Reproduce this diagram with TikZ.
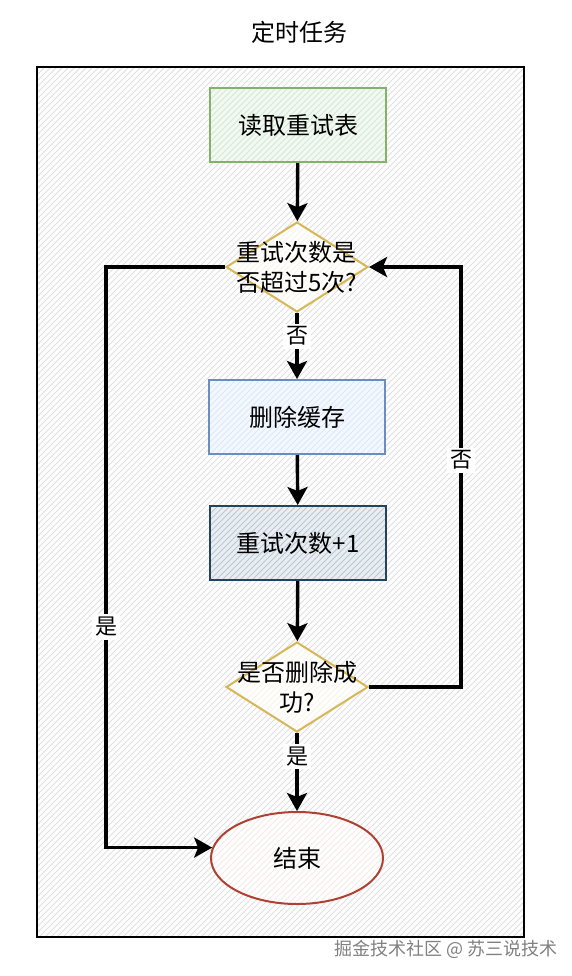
\documentclass[tikz,border=0pt]{standalone}
\usepackage{fontspec}
\setmainfont{Noto Sans CJK SC}
\usetikzlibrary{shapes.geometric,arrows.meta,patterns}

\definecolor{grnline}{HTML}{82B366}
\definecolor{grnfill}{HTML}{D5E8D4}
\definecolor{blueline}{HTML}{6C8EBF}
\definecolor{bluefill}{HTML}{DAE8FC}
\definecolor{navyline}{HTML}{23445D}
\definecolor{navyfill}{HTML}{BAC8D3}
\definecolor{yelline}{HTML}{D6B656}
\definecolor{redline}{HTML}{AE4132}

\tikzset{
  hatch/.style 2 args={preaction={fill=#1},preaction={pattern=north east lines,pattern color=#2}},
  box/.style={rectangle,draw=#1,line width=1pt,minimum width=88pt,minimum height=37pt,
    font=\fontsize{12}{14}\selectfont},
  decision/.style={diamond,draw=yelline,line width=1pt,minimum width=71pt,minimum height=45pt,
    inner sep=0pt,aspect=1.6},
  flow/.style={line width=1.7pt,-{Stealth[length=9pt,width=10pt,inset=2pt]}},
  lbl/.style={fill=white,inner sep=1.5pt,font=\fontsize{11}{12}\selectfont}
}

\begin{document}
\begin{tikzpicture}
  [x=0.5pt,y=-0.5pt]
  \useasboundingbox (0,0) rectangle (572,976);
  \node (title) at (299,32) {\fontsize{12}{14}\selectfont 定时任务};
  \draw[line width=1pt,hatch={white}{gray!25}] (37,67) rectangle (524,937);

  \node[box=grnline,hatch={grnfill!30}{grnfill}] (read) at (298,125) {读取重试表};
  \node[decision,hatch={white}{yelline!15}] (chk) at (297,267) {};
  \node[align=center,font=\fontsize{12}{15}\selectfont] (chktxt) at (chk) {重试次数是\\否超过5次?};
  \node[box=blueline,hatch={bluefill!30}{bluefill}] (del) at (297,417) {删除缓存};
  \node[box=navyline,hatch={navyfill!30}{navyfill}] (inc) at (298,543) {重试次数+1};
  \node[decision,hatch={white}{yelline!15}] (ok) at (297,687) {};
  \node[align=center,font=\fontsize{12}{15}\selectfont] (oktxt) at (ok) {是否删除成\\功?};
  \node[ellipse,draw=redline,line width=1pt,hatch={white}{redline!12},minimum width=86pt,minimum height=46pt,
    font=\fontsize{12}{14}\selectfont] (end) at (297,858) {结束};

  \coordinate (lft) at (106,0);
  \coordinate (rgt) at (461,0);

  \draw[flow] (read) -- (chk);
  \draw[flow] (chk) -- node[lbl,pos=0.35] {否} (del);
  \draw[flow] (del) -- (inc);
  \draw[flow] (inc) -- (ok);
  \draw[flow] (ok) -- node[lbl,pos=0.3] {是} (end);
  \draw[flow] (chk.west) -- (chk.west -| lft) |- node[lbl,pos=0.31] {是} (end.173);
  \draw[flow] (ok.east) -- (ok.east -| rgt) |- node[lbl,pos=0.27] {否} (chk.east);

  \node[text=gray,font=\fontsize{9}{11}\selectfont] (mark) at (446,949) {掘金技术社区 @ 苏三说技术};
\end{tikzpicture}
\end{document}
